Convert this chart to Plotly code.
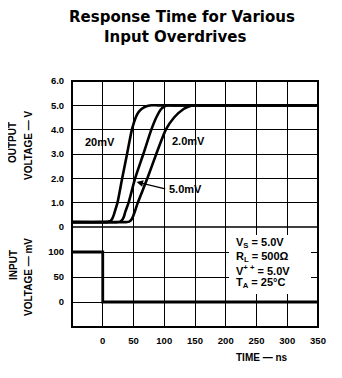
import plotly.graph_objects as go

# ---- data ----
t_20mv = [-50, 0, 8, 12, 15, 18, 21, 24, 31.6, 39.5, 47.4, 53.6, 58, 63, 70, 79, 90, 350]
v_20mv = [0.2, 0.2, 0.21, 0.24, 0.32, 0.5, 0.75, 1.0, 2.0, 3.0, 4.0, 4.5, 4.72, 4.85, 4.95, 5.0, 5.0, 5.0]

t_5mv = [-50, 0, 22, 28, 31, 34, 37, 42, 52.6, 66, 79, 87, 95, 100, 105, 115, 350]
v_5mv = [0.2, 0.2, 0.2, 0.22, 0.27, 0.4, 0.65, 1.0, 2.0, 3.0, 4.0, 4.5, 4.85, 4.95, 5.0, 5.0, 5.0]

t_2mv = [-50, 0, 38, 43, 46, 49, 53, 57, 72.6, 87, 102.6, 116, 131.5, 140, 147, 160, 350]
v_2mv = [0.2, 0.2, 0.2, 0.22, 0.28, 0.42, 0.7, 1.0, 2.0, 3.0, 4.0, 4.5, 4.85, 4.95, 5.0, 5.0, 5.0]

t_input = [-50, 0, 0, 350]
v_input = [100, 100, 0, 0]

x_ticks = [0, 50, 100, 150, 200, 250, 300, 350]
y_out_ticks = [0, 1, 2, 3, 4, 5, 6]
y_out_labels = ["0", "1.0", "2.0", "3.0", "4.0", "5.0", "6.0"]
y_in_ticks = [0, 50, 100]
y_in_labels = ["0", "50", "100"]

FONT = "Liberation Sans, Arial, Helvetica, sans-serif"
TFONT = "DejaVu Sans, Liberation Sans, sans-serif"
SPLIT = 100 / 246  # paper y of the panel boundary
PAGE = 8  # browser body margin

fig = go.Figure()
for t, v in [(t_20mv, v_20mv), (t_5mv, v_5mv), (t_2mv, v_2mv)]:
    fig.add_trace(go.Scatter(x=t, y=v, mode="lines", xaxis="x", yaxis="y",
                             line=dict(color="black", width=2.6, shape="spline", smoothing=0.6),
                             hoverinfo="skip", showlegend=False))
fig.add_trace(go.Scatter(x=t_input, y=v_input, mode="lines", xaxis="x", yaxis="y2",
                         line=dict(color="black", width=2.8), hoverinfo="skip", showlegend=False))

tickfont = dict(family=FONT, size=9.5, color="black", weight="bold")
axstyle = dict(showgrid=True, gridcolor="black", gridwidth=1, zeroline=False, showline=False,
               ticks="outside", ticklen=5, tickcolor="white", tickfont=tickfont)

fig.update_layout(
    width=342, height=378,
    margin=dict(l=72 - PAGE, r=342 - 72 - 246 + PAGE, t=81 - PAGE, b=378 - 81 - 246 + PAGE,
                autoexpand=False),
    paper_bgcolor="white", plot_bgcolor="white",
    showlegend=False,
    xaxis=dict(domain=[0, 1], range=[-50, 350], anchor="y2", tickvals=x_ticks,
               ticktext=[str(v) for v in x_ticks], **axstyle),
    yaxis=dict(domain=[SPLIT, 1], range=[0, 6], anchor="x", tickvals=y_out_ticks,
               ticktext=y_out_labels, **axstyle),
    yaxis2=dict(domain=[0, SPLIT], range=[-50, 150], anchor="x", tickvals=y_in_ticks,
                ticktext=y_in_labels, **axstyle),
)

# frame
fig.add_shape(type="rect", xref="paper", yref="paper", x0=0, x1=1, y0=0, y1=1,
              line=dict(color="black", width=2))
fig.add_shape(type="line", xref="paper", yref="paper", x0=0, x1=1, y0=SPLIT, y1=SPLIT,
              line=dict(color="black", width=1.5))


def px_x(p):
    return (p - 72) / 246


def px_y(p):
    return (327 - p) / 246


# title
for txt, x, y in [("Response Time for Various", 182, 17), ("Input Overdrives", 175, 37)]:
    fig.add_annotation(text=f"<b>{txt}</b>", x=px_x(x), y=px_y(y), xref="paper", yref="paper",
                       showarrow=False, xanchor="center", yanchor="middle",
                       font=dict(family=TFONT, size=15, color="black"))

lab = dict(family=FONT, size=10, color="black")
# axis titles (rotated)
for txt, x, y in [("OUTPUT", 12, 143), ("VOLTAGE — V", 28, 146),
                  ("INPUT", 13, 265), ("VOLTAGE — mV", 28, 277)]:
    fig.add_annotation(text=f"<b>{txt}</b>", x=px_x(x), y=px_y(y), xref="paper", yref="paper",
                       showarrow=False, textangle=-90, xanchor="center", yanchor="middle", font=lab)
fig.add_annotation(text="<b>TIME — ns</b>", x=px_x(262), y=px_y(357), xref="paper", yref="paper",
                   showarrow=False, xanchor="center", yanchor="middle", font=lab)

# curve labels
cl = dict(family=FONT, size=11, color="black")
fig.add_annotation(text="<b>20mV</b>", x=-4, y=3.5, xref="x", yref="y", showarrow=False, font=cl)
fig.add_annotation(text="<b>2.0mV</b>", x=140, y=3.53, xref="x", yref="y", showarrow=False, font=cl)
fig.add_annotation(text="<b>5.0mV</b>", x=105, y=1.57, xref="x", yref="y", showarrow=False,
                   xanchor="left", font=cl)
fig.add_annotation(text="", x=55, y=1.85, ax=104, ay=1.55, xref="x", yref="y", axref="x", ayref="y",
                   showarrow=True, arrowhead=2, arrowsize=1, arrowwidth=1.3, arrowcolor="black")

# conditions box: white panel behind the text
fig.add_shape(type="rect", xref="paper", yref="paper", x0=px_x(229), x1=px_x(311),
              y0=px_y(294), y1=px_y(235), line=dict(width=0), fillcolor="white", layer="above")
for txt, y in [("V<sub>S</sub> = 5.0V", 243), ("R<sub>L</sub> = 500Ω", 256.5),
               ("V<sup>+ +</sup> = 5.0V", 270), ("T<sub>A</sub> = 25°C", 283)]:
    fig.add_annotation(text=f"<b>{txt}</b>", x=px_x(234), y=px_y(y), xref="paper", yref="paper",
                       showarrow=False, xanchor="left", yanchor="middle", align="left",
                       font=dict(family=FONT, size=11, color="black"))

fig.write_html("out.html")
